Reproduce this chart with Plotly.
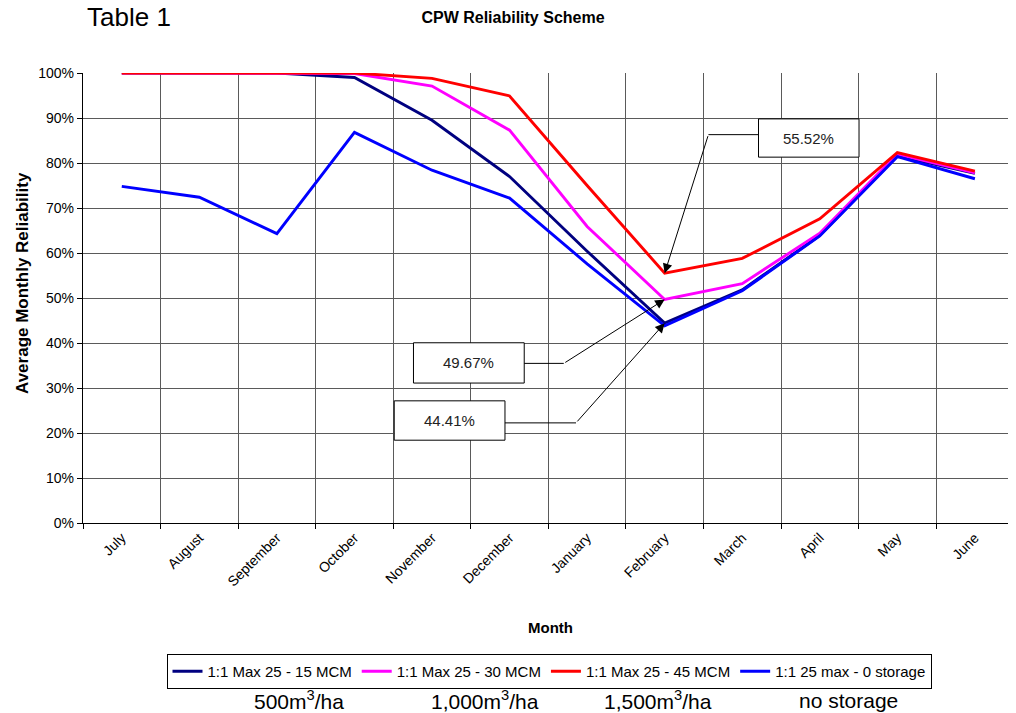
import plotly.graph_objects as go

# ---------------- data ----------------
months = ["July", "August", "September", "October", "November", "December",
          "January", "February", "March", "April", "May", "June"]

rel_15mcm = [100, 100, 100, 99.0, 89.5, 77.0, 60.4, 44.41, 51.8, 63.9, 81.6, 77.7]
rel_30mcm = [100, 100, 100, 99.9, 97.1, 87.3, 65.9, 49.67, 53.2, 64.4, 82.0, 77.8]
rel_45mcm = [100, 100, 100, 100, 98.8, 94.9, 75.0, 55.52, 58.8, 67.6, 82.3, 78.2]
rel_0stor = [74.8, 72.4, 64.3, 86.8, 78.4, 72.2, 57.6, 43.8, 51.6, 63.8, 81.4, 76.5]

series_names = ["1:1 Max 25 - 15 MCM", "1:1 Max 25 - 30 MCM",
                "1:1 Max 25 - 45 MCM", "1:1 25 max - 0 storage"]
series_values = [rel_15mcm, rel_30mcm, rel_45mcm, rel_0stor]
series_colors = ["#000080", "#FF00FF", "#FF0000", "#0000FF"]

storage_labels = ["500m<sup>3</sup>/ha", "1,000m<sup>3</sup>/ha",
                  "1,500m<sup>3</sup>/ha", "no storage"]

y_ticks = list(range(0, 101, 10))
y_ticktext = [f"{v}%" for v in y_ticks]

callout_month = "February"
callout_series = [2, 1, 0]   # 45 MCM, 30 MCM, 15 MCM

FONT = "Liberation Sans, Arial, sans-serif"

# layout helpers (page pixel -> paper); page has an 8px body margin
OFF = 8
FW, FH = 1016 - OFF, 713 - OFF
L, T, W, H = 83 - OFF, 73 - OFF, 933, 450
def px(x):
    return (x - OFF - L) / W
def py(y):
    return (T + H - (y - OFF)) / H

# ---------------- figure ----------------
fig = go.Figure()
for name, vals, col in zip(series_names, series_values, series_colors):
    fig.add_trace(go.Scatter(x=months, y=vals, name=name, mode="lines",
                             line=dict(color=col, width=2.9)))

# callout boxes: (x0, x1, y0, y1, leader_y, elbow_x, side)
box_geom = [
    (8.21, 9.506, 81.3, 89.8, 86.3, 7.564, "left"),
    (3.761, 5.189, 31.1, 40.05, 35.47, 5.699, "right"),
    (3.513, 4.941, 18.4, 27.15, 22.25, 5.857, "right"),
]
mi = months.index(callout_month)
shapes = []
annotations = []
for si, (x0, x1, y0, y1, ly, ex, side) in zip(callout_series, box_geom):
    val = series_values[si][mi]
    shapes.append(dict(type="rect", xref="x", yref="y", x0=x0, x1=x1, y0=y0, y1=y1,
                       line=dict(color="black", width=1), fillcolor="white", layer="above"))
    sx = x0 if side == "left" else x1
    shapes.append(dict(type="line", xref="x", yref="y", x0=sx, x1=ex, y0=ly, y1=ly,
                       line=dict(color="black", width=1), layer="above"))
    annotations.append(dict(xref="x", yref="y", x=(x0 + x1) / 2, y=(y0 + y1) / 2,
                            xanchor="center", yanchor="middle",
                            text=f"{val:.2f}%", showarrow=False,
                            font=dict(family=FONT, size=15, color="#222")))
    annotations.append(dict(xref="x", yref="y", x=mi, y=val, ax=ex, ay=ly,
                            axref="x", ayref="y", text="", showarrow=True,
                            arrowhead=2, arrowsize=1.9, arrowwidth=1,
                            arrowcolor="black", standoff=0))

# axis titles and extra texts
annotations.append(dict(xref="paper", yref="paper", x=px(550), y=py(627),
                        xanchor="center", yanchor="middle",
                        text="<b>Month</b>", showarrow=False,
                        font=dict(family=FONT, size=15, color="black")))
annotations.append(dict(xref="paper", yref="paper", x=px(22), y=py(283),
                        xanchor="center", yanchor="middle",
                        text="<b>Average Monthly Reliability</b>", showarrow=False, textangle=-90,
                        font=dict(family=FONT, size=17, color="black")))
annotations.append(dict(xref="paper", yref="paper", x=px(129), y=py(17),
                        xanchor="center", yanchor="middle",
                        text="Table 1", showarrow=False,
                        font=dict(family=FONT, size=26, color="black")))
for lab, cx in zip(storage_labels, [299, 485, 657.5, 848]):
    annotations.append(dict(xref="paper", yref="paper", x=px(cx), y=py(700),
                            xanchor="center", yanchor="middle",
                            text=lab, showarrow=False,
                            font=dict(family=FONT, size=21, color="black")))

fig.update_layout(
    width=FW, height=FH,
    margin=dict(l=L, r=FW - L - W, t=T, b=FH - T - H, autoexpand=False),
    paper_bgcolor="white", plot_bgcolor="white",
    font=dict(family=FONT, size=14, color="black"),
    title=dict(text="<b>CPW Reliability Scheme</b>", x=(513 - OFF) / FW, xanchor="center",
               y=1 - (17 - OFF) / FH, yanchor="middle",
               font=dict(family=FONT, size=16, color="black")),
    showlegend=True,
    legend=dict(orientation="h", x=px(549), xanchor="center",
                y=py(654), yanchor="top",
                bordercolor="black", borderwidth=1, bgcolor="white",
                font=dict(family=FONT, size=15, color="black"),
                tracegroupgap=0),
    shapes=shapes,
    annotations=annotations,
)
fig.update_xaxes(type="category", tickson="boundaries", range=[-0.5, 11.53],
                 showgrid=True, gridcolor="#5a5a5a", gridwidth=1.2,
                 showline=True, linecolor="black", linewidth=1.3,
                 ticks="outside", ticklen=5, tickcolor="black",
                 tickangle=-45, automargin=False,
                 tickfont=dict(family=FONT, size=14, color="black"))
fig.update_yaxes(range=[0, 100], tickvals=y_ticks, ticktext=y_ticktext,
                 showgrid=True, gridcolor="#5a5a5a", gridwidth=1.2,
                 showline=True, linecolor="black", linewidth=1.3,
                 ticks="outside", ticklen=5, tickcolor="black",
                 zeroline=False, automargin=False,
                 tickfont=dict(family=FONT, size=14, color="black"))

fig.write_html("out.html")
